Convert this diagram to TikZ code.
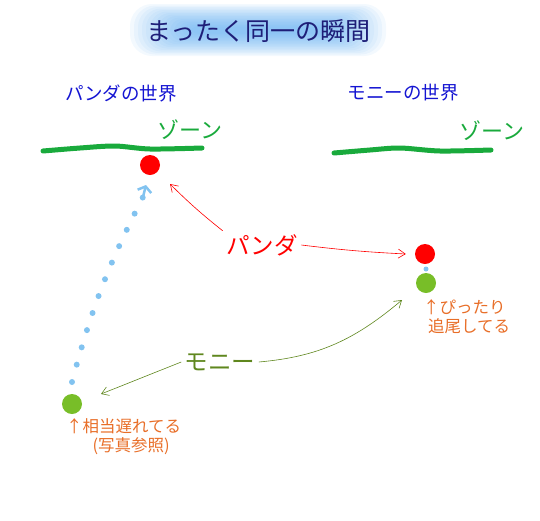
\documentclass[tikz,border=0pt]{standalone}
\usepackage{fontspec}
\setmainfont{Noto Sans CJK JP}
\usetikzlibrary{arrows.meta}

\definecolor{titleblue}{RGB}{30,30,120}
\definecolor{worldblue}{RGB}{20,20,210}
\definecolor{zonegreen}{RGB}{25,170,60}
\definecolor{dotgreen}{RGB}{120,190,40}
\definecolor{monygreen}{RGB}{95,135,30}
\definecolor{skyblue}{RGB}{130,195,240}
\definecolor{noteorange}{RGB}{232,110,40}
\definecolor{glowblue}{RGB}{90,170,240}

\tikzset{
  world/.style={text=worldblue, font=\fontsize{18.5}{20}\selectfont},
  zone/.style={text=zonegreen, font=\fontsize{22}{24}\selectfont},
  zoneline/.style={zonegreen, line width=5pt, line cap=round, line join=round},
  ball/.style={circle, inner sep=0pt, minimum size=20pt},
  note/.style={text=noteorange, font=\fontsize{16.5}{19}\selectfont, align=left, inner sep=0pt},
  tag/.style={font=\fontsize{23.5}{25}\selectfont},
  thin arrow/.style={->, >={Straight Barb[length=7pt, width=9pt]}, line width=0.6pt},
}

\begin{document}
\begin{tikzpicture}[x=1pt, y=-1pt]
  \useasboundingbox (0,0) rectangle (540,520);

  % title with glow
  \foreach \i in {0,...,15}
    \fill[glowblue, opacity=0.07, rounded corners={22pt-\i*1pt}]
      ({130+\i*4},{4+\i*1.5}) rectangle ({386-\i*4},{56-\i*1.5});
  \node[text=titleblue, font=\fontsize{25}{27}\selectfont] (title) at (258,31) {まったく同一の瞬間};

  % worlds
  \node[world] (pworld) at (121,93) {パンダの世界};
  \node[world] (mworld) at (403,93) {モニーの世界};

  \draw[zoneline] plot[smooth] coordinates {(43,151) (80,148) (115,146) (150,149) (202,148)};
  \draw[zoneline] plot[smooth] coordinates {(334,153) (370,150) (400,148) (440,151) (491,150)};
  \node[zone] (pzone) at (190,130) {ゾーン};
  \node[zone] (mzone) at (492,131) {ゾーン};

  % balls
  \node[ball, fill=red] (pandaL) at (150,165) {};
  \node[ball, fill=dotgreen] (monyL) at (72,404) {};
  \node[ball, fill=red] (pandaR) at (425,254) {};
  \node[ball, fill=dotgreen] (monyR) at (426,283) {};
  \node[circle, inner sep=0pt, minimum size=5pt, fill=skyblue] (gap) at (426,269) {};

  % trail
  \coordinate (trailend) at (143,197);
  \coordinate (trailtip) at (146,185);
  \draw[skyblue, line width=6pt, line cap=round, dash pattern=on 0pt off 18pt]
    ([yshift=22pt]monyL.center) to[bend left=6] (trailend);
  \draw[skyblue, line width=2.5pt, line cap=round, -{Straight Barb[length=5pt, width=14pt]}]
    (trailend) -- (trailtip);

  % labels
  \node[tag, text=red] (pandalbl) at (262,245) {パンダ};
  \node[tag, text=monygreen] (monylbl) at (220,362) {モニー};

  \coordinate (ptip) at (170,184);
  \draw[thin arrow, red] (pandalbl.north west) to[bend left=3] (ptip);
  \draw[thin arrow, red] (pandalbl.east) to[bend left=-2] ([xshift=-9pt]pandaR.west);

  \coordinate (mtip) at (402,300);
  \coordinate (ltip) at (101,394);
  \draw[thin arrow, monygreen] (monylbl.east) to[out=5, in=220] (mtip);
  \draw[thin arrow, monygreen] (monylbl.west) -- (ltip);

  % notes
  \node[note, anchor=north west] (late) at (66,418) {↑相当遅れてる\\\hspace*{1.6em}(写真参照)};
  \node[note, anchor=north west] (close) at (423,299) {↑ぴったり\\\hspace*{0.3em}追尾してる};
\end{tikzpicture}
\end{document}
